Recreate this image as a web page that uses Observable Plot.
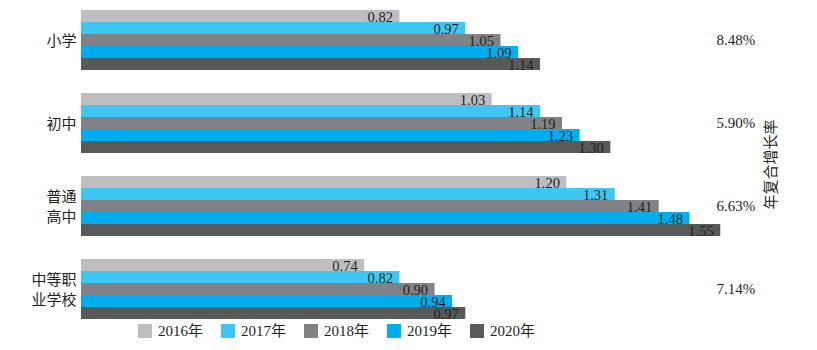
<!DOCTYPE html>
<html>
<head>
<meta charset="utf-8">
<script src="https://cdn.jsdelivr.net/npm/d3@7"></script>
<script src="https://cdn.jsdelivr.net/npm/@observablehq/plot@0.6"></script>
<style>
  html, body { margin: 0; padding: 0; background: #fff; }
  #wrap { position: relative; width: 817px; height: 350px; font-family: "Liberation Serif", "Noto Sans CJK SC", serif; color: #231F20; }
  #legend { position: absolute; left: 138px; top: 324px; display: flex; font-size: 15px; line-height: 14px; }
  #legend .item { width: 83px; display: flex; align-items: center; white-space: nowrap; }
  #legend .sw { width: 14px; height: 14px; margin-right: 6px; flex: none; }
</style>
</head>
<body>
<div id="wrap"><div id="chart"></div><div id="legend"></div></div>
<script>
const categories = ["小学", "初中", "普通高中", "中等职业学校"];
const categoryLabels = ["小学", "初中", "普通\n高中", "中等职\n业学校"];
const years = ["2016年", "2017年", "2018年", "2019年", "2020年"];
const v2016 = [0.82, 1.03, 1.20, 0.74];
const v2017 = [0.97, 1.14, 1.31, 0.82];
const v2018 = [1.05, 1.19, 1.41, 0.90];
const v2019 = [1.09, 1.23, 1.48, 0.94];
const v2020 = [1.14, 1.30, 1.55, 0.97];
const cagr = ["8.48%", "5.90%", "6.63%", "7.14%"];
const colors = ["#BDBEC0", "#3FC7F4", "#808285", "#00AEEF", "#58595B"];
const xStart = 0.0956, xEnd = 1.554;

const series = [v2016, v2017, v2018, v2019, v2020];
const rows = [];
categories.forEach((c, i) => years.forEach((y, j) => rows.push({category: c, year: y, value: series[j][i]})));
const labelMap = new Map(categories.map((c, i) => [c, categoryLabels[i]]));
const cagrMap = new Map(categories.map((c, i) => [c, cagr[i]]));

const FONT = '"Liberation Serif", "Noto Sans CJK SC", serif';
const chart = Plot.plot({
  width: 817, height: 321,
  marginLeft: 81, marginRight: 95, marginTop: 9, marginBottom: 2,
  style: {fontFamily: FONT, fontSize: "15px", color: "#231F20", background: "white", overflow: "visible"},
  x: {domain: [xStart, xEnd], clamp: true, axis: null},
  y: {domain: years, padding: 0, axis: null},
  fy: {domain: categories, paddingInner: 22 / 83, paddingOuter: 0, label: null},
  color: {domain: years, range: colors},
  marks: [
    Plot.barX(rows, {fy: "category", y: "year", x: "value", fill: "year"}),
    Plot.text(rows, {fy: "category", y: "year", x: "value", text: d => d.value.toFixed(2), textAnchor: "end", dx: -7, dy: 1, fill: "#231F20", fontSize: 14.5}),
    Plot.axisFy({anchor: "left", tickSize: 0, tickPadding: 5, tickFormat: c => labelMap.get(c), lineHeight: 1.33, label: null, fontSize: 15, fill: "#231F20"}),
    Plot.axisFy({anchor: "right", tickSize: 0, tickPadding: -6, tickFormat: c => cagrMap.get(c), label: "年复合增长率", labelAnchor: "center", labelOffset: 53, fontSize: 15, fill: "#231F20"})
  ]
});
document.getElementById("chart").appendChild(chart);

const legend = d3.select("#legend");
years.forEach((y, i) => {
  const it = legend.append("div").attr("class", "item");
  it.append("div").attr("class", "sw").style("background", colors[i]);
  it.append("span").text(y);
});
</script>
</body>
</html>
